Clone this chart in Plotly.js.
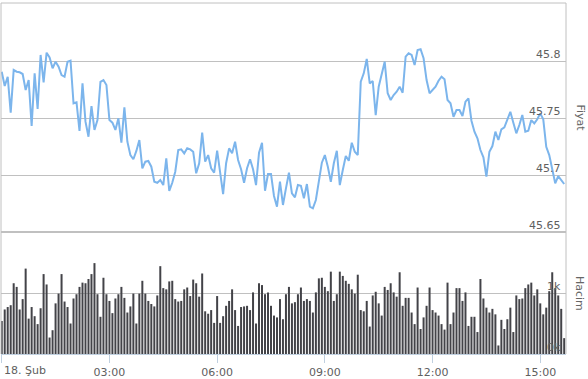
<!DOCTYPE html>
<html>
<head>
<meta charset="utf-8">
<script src="https://cdn.plot.ly/plotly-3.0.1.min.js"></script>
<style>
  html, body { margin: 0; padding: 0; background: #fff; }
  #chart { width: 588px; height: 379px; }
</style>
</head>
<body>
<div id="chart"></div>
<script>
// 5-minute intervals starting 18 Feb 00:00 (x in minutes since midnight)
const intervalMinutes = 5;

const price = [
45.7906,45.7781,45.7862,45.7547,45.7921,45.7906,45.7901,45.7886,45.7746,45.7833,
45.7430,45.7892,45.7579,45.8053,45.7813,45.8073,45.8032,45.7936,45.7994,45.7950,
45.7877,45.7862,45.7994,45.8003,45.7629,45.7638,45.7386,45.7804,45.7468,45.7336,
45.7605,45.7395,45.7482,45.7818,45.7833,45.7789,45.7482,45.7459,45.7395,45.7497,
45.7283,45.7594,45.7292,45.7175,45.7138,45.7211,45.7307,45.7059,45.7117,45.7123,
45.7073,45.6941,45.6932,45.6956,45.6912,45.7146,45.6860,45.6932,45.7029,45.7219,
45.7225,45.7190,45.7234,45.7225,45.7204,45.7015,45.7103,45.7371,45.7117,45.7175,
45.7059,45.7020,45.7213,45.7018,45.6833,45.7103,45.7234,45.7190,45.7292,45.7132,
45.7050,45.6932,45.7059,45.7138,45.7050,45.6912,45.7196,45.7283,45.6862,45.7009,
45.7009,45.6816,45.6722,45.6941,45.6737,45.6883,45.7020,45.6839,45.6804,45.6912,
45.6906,45.6796,45.6921,45.6722,45.6708,45.6781,45.6962,45.7108,45.7175,45.7073,
45.6941,45.7103,45.7213,45.6912,45.7044,45.7167,45.7125,45.7283,45.7204,45.7175,
45.7818,45.7892,45.8018,45.7804,45.7825,45.7526,45.7775,45.7892,45.7994,45.7717,
45.7658,45.7702,45.7731,45.7775,45.7722,45.8038,45.8068,45.8053,45.7965,45.8096,
45.8103,45.8024,45.7833,45.7717,45.7746,45.7775,45.7827,45.7862,45.7839,45.7658,
45.7629,45.7511,45.7570,45.7570,45.7518,45.7643,45.7673,45.7476,45.7380,45.7322,
45.7219,45.7155,45.6985,45.7204,45.7254,45.7380,45.7307,45.7401,45.7418,45.7489,
45.7555,45.7459,45.7366,45.7439,45.7526,45.7380,45.7389,45.7482,45.7453,45.7489,
45.7541,45.7489,45.7248,45.7175,45.7044,45.6927,45.6991,45.6956,45.6921
];

const volume = [
540,730,770,800,1160,1100,730,900,1400,580,
770,620,490,750,1310,1140,270,390,830,990,
1310,860,770,500,910,980,1100,1170,1160,1230,
1310,1490,980,610,1250,980,870,670,910,980,
1100,920,680,780,990,500,990,1200,990,870,
820,780,960,1440,1080,1060,1190,1200,900,860,
870,1060,1090,950,1220,1160,940,
1320,700,660,720,510,950,510,620,790,870,
1060,720,460,770,780,790,720,1010,500,1160,
1130,980,1010,790,630,600,900,570,980,1100,
830,850,980,1090,870,900,870,680,1010,1240,1250,
1100,1030,1350,870,980,1350,1280,1200,1150,1060,
990,1300,720,700,870,450,960,1020,830,630,
1100,1050,1160,1010,940,1340,
790,920,920,680,490,1090,410,600,790,1090,
720,680,630,490,400,1170,490,680,1080,1080,
870,1010,460,610,610,360,1230,910,760,680,
740,650,140,560,410,570,760,360,960,900,
910,1080,1140,1170,960,1060,830,650,760,1030,
1340,1080,960,740,260
];

const xTickMinutes = [0, 180, 360, 540, 720, 900];
const xTickLabels = ['18. Şub', '03:00', '06:00', '09:00', '12:00', '15:00'];
const priceTicks = [45.65, 45.7, 45.75, 45.8];
const priceTickLabels = ['45.65', '45.7', '45.75', '45.8'];
const volumeTicks = [0, 1000];
const volumeTickLabels = ['0k', '1k'];
const priceTitle = 'Fiyat';
const volumeTitle = 'Hacim';

const timesP = price.map((_, i) => i * intervalMinutes);
const timesV = volume.map((_, i) => i * intervalMinutes);

const splitFrac = (354 - 232) / 351;
const labelFont = { family: 'DejaVu Sans, sans-serif', size: 11, color: '#606060' };
const titleFont = { family: 'DejaVu Sans, sans-serif', size: 11, color: '#666666' };

const traces = [
  {
    type: 'bar', x: timesV, y: volume, xaxis: 'x', yaxis: 'y2',
    marker: { color: '#434348', line: { width: 0 } }, hoverinfo: 'skip'
  },
  {
    type: 'scatter', mode: 'lines', x: timesP, y: price, xaxis: 'x', yaxis: 'y',
    line: { color: '#7cb5ec', width: 2 }, hoverinfo: 'skip'
  }
];

// y-axis labels drawn inside the plot, right-aligned, just above their grid lines
const yLabelAnns = [];
priceTicks.forEach((v, i) => yLabelAnns.push({
  text: priceTickLabels[i], xref: 'paper', yref: 'y', x: 1, y: v,
  xanchor: 'right', yanchor: 'middle', xshift: -3, yshift: 7,
  showarrow: false, font: labelFont
}));
volumeTicks.forEach((v, i) => yLabelAnns.push({
  text: volumeTickLabels[i], xref: 'paper', yref: 'y2', x: 1, y: v,
  xanchor: 'right', yanchor: 'middle', xshift: -3, yshift: 7,
  showarrow: false, font: labelFont
}));

const layout = {
  width: 588, height: 379,
  margin: { l: 1, r: 22, t: 3, b: 25, pad: 0 },
  paper_bgcolor: '#ffffff', plot_bgcolor: '#ffffff',
  showlegend: false,
  font: labelFont,
  bargap: 0.33,
  xaxis: {
    anchor: 'y2', range: [-1.2, 943],
    tickmode: 'array', tickvals: xTickMinutes,
    ticktext: xTickLabels.map((t, i) => i === 0 ? '' : t),
    showgrid: false, zeroline: false,
    showline: true, linecolor: '#C0D0E0', linewidth: 1,
    ticks: 'outside', ticklen: 8, tickcolor: '#C0D0E0', tickwidth: 1,
    tickfont: labelFont, fixedrange: true
  },
  yaxis: {
    domain: [splitFrac, 1], range: [45.65, 45.8509],
    side: 'right', tickmode: 'array', tickvals: priceTicks, showticklabels: false,
    showgrid: true, gridcolor: '#C0C0C0', gridwidth: 1,
    zeroline: false, showline: false, ticks: '', fixedrange: true
  },
  yaxis2: {
    domain: [0, splitFrac], range: [0, 2000],
    side: 'right', tickmode: 'array', tickvals: volumeTicks, showticklabels: false,
    showgrid: true, gridcolor: '#C0C0C0', gridwidth: 1,
    zeroline: false, showline: false, ticks: '', fixedrange: true
  },
  shapes: [
    { type: 'line', xref: 'paper', yref: 'paper', x0: 0, x1: 0, y0: 0, y1: 1, line: { color: '#C0C0C0', width: 1 } },
    { type: 'line', xref: 'paper', yref: 'paper', x0: 1, x1: 1, y0: 0, y1: 1, line: { color: '#C0C0C0', width: 1 } },
    { type: 'line', xref: 'paper', yref: 'paper', x0: 0, x1: 1, y0: 1, y1: 1, line: { color: '#C0C0C0', width: 1 } },
    { type: 'line', xref: 'paper', yref: 'paper', x0: 0, x1: 1, y0: splitFrac, y1: splitFrac, line: { color: '#C0C0C0', width: 2 } }
  ],
  annotations: [
    { text: xTickLabels[0], xref: 'x', yref: 'paper', x: 0, y: 0, xanchor: 'left', yanchor: 'top',
      yshift: -8, showarrow: false, font: labelFont },
    { text: priceTitle, xref: 'paper', yref: 'paper', x: (580 - 1) / 565, y: (354 - 117.5) / 351,
      xanchor: 'center', yanchor: 'middle', textangle: 90, showarrow: false, font: titleFont },
    { text: volumeTitle, xref: 'paper', yref: 'paper', x: (580 - 1) / 565, y: (354 - 293) / 351,
      xanchor: 'center', yanchor: 'middle', textangle: 90, showarrow: false, font: titleFont }
  ].concat(yLabelAnns)
};

Plotly.newPlot('chart', traces, layout, { staticPlot: true, displayModeBar: false });
</script>
</body>
</html>
